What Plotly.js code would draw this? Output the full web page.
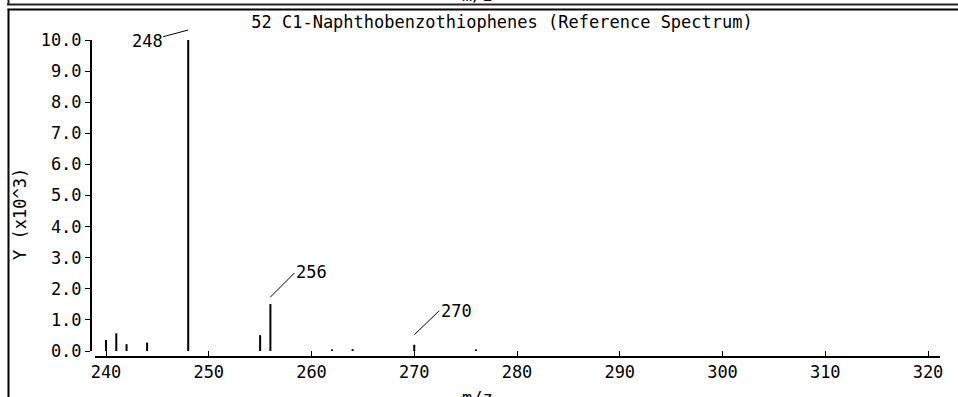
<!DOCTYPE html>
<html><head><meta charset="utf-8">
<script src="https://cdn.plot.ly/plotly-3.0.1.min.js"></script>
<style>html,body{margin:0;padding:0;background:#fff}</style>
</head><body><div id="chart" style="width:958px;height:397px"></div>
<script>
// m/z values and intensities (units of 10^3)
const mz = [240, 241, 242, 244, 248, 255, 256, 262, 264, 270, 276];
const intensity = [0.35, 0.57, 0.22, 0.27, 10.0, 0.51, 1.51, 0.05, 0.06, 0.20, 0.05];
const peakLabels = [248, 256, 270];
const xTickVals = [240, 250, 260, 270, 280, 290, 300, 310, 320];
const yTickVals = [0, 1, 2, 3, 4, 5, 6, 7, 8, 9, 10];
const chartTitle = "52 C1-Naphthobenzothiophenes (Reference Spectrum)";
const xTitle = "m/z";
const yTitle = "Y (x10^3)";

const W = 958, H = 397;
const L = 91, R = 18, T = 40, B = 40;
const plotW = W - L - R, plotH = H - T - B;
const px = x => (x - L) / plotW;
const py = y => (H - B - y) / plotH;

const FONT = {family: '"DejaVu Sans Mono", "Liberation Mono", monospace', size: 17, color: '#000'};

const bx = [], by = [];
mz.forEach((m, i) => { bx.push(m, m, null); by.push(0, intensity[i], null); });

const bars = {
  type: 'scatter', mode: 'lines', x: bx, y: by,
  line: {color: '#000', width: 2}, hoverinfo: 'skip', showlegend: false, cliponaxis: false
};

// label placement (pixel offsets from each peak top, +y = up)
const labelStyle = {
  248: {arrow: true, ax: -41, ay: 11, yshift: 10},
  256: {line: [0, 7, 24, 31], tx: 25, ty: 32},
  270: {line: [0, 10, 25, 34], tx: 26, ty: 34}
};

const annotations = [];
const shapes = [];
peakLabels.forEach(p => {
  const s = labelStyle[p];
  const v = intensity[mz.indexOf(p)];
  if (s.arrow) {
    annotations.push({
      x: p, y: v, xref: 'x', yref: 'y', text: String(p), showarrow: true,
      arrowhead: 0, arrowwidth: 1, arrowcolor: '#000', ax: s.ax, ay: s.ay,
      yshift: s.yshift, font: FONT, borderpad: 0
    });
  } else {
    annotations.push({
      x: p, y: v, xref: 'x', yref: 'y', text: String(p), showarrow: false,
      xanchor: 'left', yanchor: 'middle', xshift: s.tx, yshift: s.ty, font: FONT, borderpad: 0
    });
    shapes.push({
      type: 'line', xref: 'x', yref: 'y', xsizemode: 'pixel', ysizemode: 'pixel',
      xanchor: p, yanchor: v, x0: s.line[0], y0: s.line[1], x1: s.line[2], y1: s.line[3],
      line: {color: '#000', width: 1}
    });
  }
});

annotations.push({
  text: yTitle, xref: 'paper', yref: 'paper', x: px(20), y: py(214),
  textangle: -90, showarrow: false, font: FONT, xanchor: 'center', yanchor: 'middle'
});
annotations.push({
  text: xTitle, xref: 'paper', yref: 'paper', x: px(477), y: py(386),
  showarrow: false, font: FONT, xanchor: 'center', yanchor: 'top'
});
annotations.push({
  text: xTitle, xref: 'paper', yref: 'paper', x: px(477), y: py(-5),
  showarrow: false, font: FONT, xanchor: 'center', yanchor: 'middle'
});

shapes.push(
  {type: 'line', xref: 'paper', yref: 'paper', x0: px(7), x1: px(958), y0: py(4.5), y1: py(4.5), line: {color: '#222', width: 2}},
  {type: 'line', xref: 'paper', yref: 'paper', x0: px(8.5), x1: px(8.5), y0: py(-2), y1: py(4.5), line: {color: '#222', width: 2}},
  {type: 'line', xref: 'paper', yref: 'paper', x0: px(7.5), x1: px(958), y0: py(9.5), y1: py(9.5), line: {color: '#000', width: 2}},
  {type: 'line', xref: 'paper', yref: 'paper', x0: px(8.5), x1: px(8.5), y0: py(9.5), y1: py(400), line: {color: '#000', width: 2}}
);

const layout = {
  width: W, height: H,
  margin: {l: L, r: R, t: T, b: B, pad: 0},
  paper_bgcolor: '#fff', plot_bgcolor: '#fff',
  font: FONT,
  title: {text: chartTitle, font: FONT, xref: 'container', yref: 'container',
          x: 502 / W, y: 1 - 22 / H, xanchor: 'center', yanchor: 'middle'},
  xaxis: {
    domain: [px(95), 1], range: [240 - 11 / 10.275, 320 + 12 / 10.275],
    tickvals: xTickVals, ticks: 'inside', ticklen: 5, tickwidth: 1, tickcolor: '#000',
    showline: true, linewidth: 2, linecolor: '#000', showgrid: false, zeroline: false,
    anchor: 'free', position: 0, tickfont: FONT, fixedrange: true
  },
  yaxis: {
    domain: [py(351), 1], range: [0, 10.0001],
    tickvals: yTickVals, tickformat: '.1f', ticks: 'outside', ticklen: 5, tickwidth: 1, tickcolor: '#000',
    showline: true, linewidth: 2, linecolor: '#000', showgrid: false, zeroline: false,
    anchor: 'free', position: 0, tickfont: FONT, fixedrange: true
  },
  annotations: annotations,
  shapes: shapes,
  showlegend: false
};

Plotly.newPlot('chart', [bars], layout, {displayModeBar: false, staticPlot: true});
</script>
</body></html>
